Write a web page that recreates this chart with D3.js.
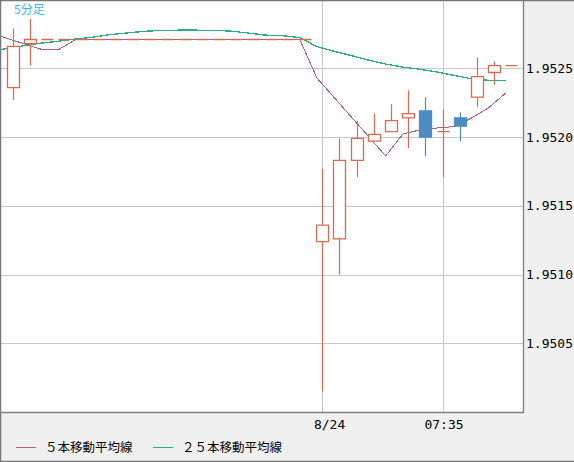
<html>
<head>
  <script src="https://d3js.org/d3.v7.min.js"></script>
  <style>
    body { margin: 0; background: #f0f0f0; }
    .grid line { stroke: #c8c8c8; shape-rendering: crispEdges; }
    .grid .domain { stroke: none; }
    .axis .domain { stroke: none; }
    .axis text { font-family: "DejaVu Sans Mono", monospace; font-size: 13px; fill: #000; }
    .legend text { font-family: "Noto Sans CJK JP", sans-serif; font-size: 12.5px; fill: #000; }
  </style>
</head>
<body>
  <svg id="chart" width="574" height="462"></svg>
  <script>
    // candles, left to right (weekend gap = flat bars)
    const opens  = [1.95236, 1.95268,
      1.95271, 1.95271, 1.95271, 1.95271, 1.95271, 1.95271, 1.95271, 1.95271,
      1.95271, 1.95271, 1.95271, 1.95271, 1.95271, 1.95271, 1.95271, 1.95271,
      1.95124, 1.95126, 1.95183, 1.95197, 1.95204, 1.95214, 1.95219, 1.95204,
      1.95214, 1.95229, 1.95247, 1.95252];
    const highs  = [1.95279, 1.95286,
      1.95271, 1.95271, 1.95271, 1.95271, 1.95271, 1.95271, 1.95271, 1.95271,
      1.95271, 1.95271, 1.95271, 1.95271, 1.95271, 1.95271, 1.95271, 1.95271,
      1.95177, 1.95199, 1.95212, 1.95217, 1.95224, 1.95234, 1.95229, 1.95220,
      1.95218, 1.95258, 1.95255, 1.95252];
    const lows   = [1.95227, 1.95252,
      1.95271, 1.95271, 1.95271, 1.95271, 1.95271, 1.95271, 1.95271, 1.95271,
      1.95271, 1.95271, 1.95271, 1.95271, 1.95271, 1.95271, 1.95271, 1.95271,
      1.95015, 1.95100, 1.95171, 1.95197, 1.95204, 1.95192, 1.95186, 1.95171,
      1.95197, 1.95222, 1.95238, 1.95252];
    const closes = [1.95266, 1.95271,
      1.95271, 1.95271, 1.95271, 1.95271, 1.95271, 1.95271, 1.95271, 1.95271,
      1.95271, 1.95271, 1.95271, 1.95271, 1.95271, 1.95271, 1.95271, 1.95271,
      1.95136, 1.95183, 1.95199, 1.95202, 1.95212, 1.95217, 1.95200, 1.95204,
      1.95208, 1.95244, 1.95252, 1.95252];

    // moving averages start one bar before the first visible candle
    const maFirst = -1;
    const ma5 = [1.952757, 1.952717, 1.952678, 1.952638, 1.952638, 1.952711,
      1.952711, 1.952711, 1.952711, 1.952711, 1.952711, 1.952711, 1.952711,
      1.952711, 1.952711, 1.952711, 1.952711, 1.952711, 1.952711,
      1.952430, 1.952288, 1.952146, 1.952004, 1.951863, 1.952023, 1.952052,
      1.952066, 1.952077, 1.952140, 1.952215, 1.952323];
    const ma25 = [1.952626, 1.952644, 1.952666, 1.952684, 1.952698, 1.952714,
      1.952727, 1.952746, 1.952758, 1.952770, 1.952776, 1.952778, 1.952778,
      1.952776, 1.952771, 1.952757, 1.952742, 1.952738, 1.952724,
      1.952658, 1.952624, 1.952593, 1.952560, 1.952531, 1.952509, 1.952493,
      1.952473, 1.952448, 1.952424, 1.952413, 1.952410];

    const yTicks = [1.9505, 1.9510, 1.9515, 1.9520, 1.9525];
    const xTickIdx = [18, 25];
    const xTickLabels = ["8/24", "07:35"];
    const seriesNames = ["５本移動平均線", "２５本移動平均線"];
    const title = "5分足";

    const upColor = "#d9694f", downColor = "#4d8cc0";
    const ma5Color = "#b0607f", ma25Color = "#2bb077";

    const svg = d3.select("svg#chart");
    const plot = { left: 1, top: 1, right: 523, bottom: 412 };

    const x = d3.scaleLinear().domain([0, 29]).range([12.5, 511.3]);
    const y = d3.scaleLinear().domain([1.9500, 1.95299]).range([plot.bottom, plot.top]);

    // plot background
    svg.append("rect")
      .attr("x", plot.left).attr("y", plot.top)
      .attr("width", plot.right - plot.left).attr("height", plot.bottom - plot.top)
      .attr("fill", "white");

    svg.append("defs").append("clipPath").attr("id", "clip")
      .append("rect")
      .attr("x", plot.left).attr("y", plot.top)
      .attr("width", plot.right - plot.left).attr("height", plot.bottom - plot.top);

    // gridlines
    svg.append("g")
      .attr("class", "grid")
      .attr("transform", `translate(${plot.left},0)`)
      .call(d3.axisRight(y).tickValues(yTicks).tickSize(plot.right - plot.left).tickFormat(""));

    svg.append("g")
      .attr("class", "grid")
      .attr("transform", `translate(0,${plot.top})`)
      .call(d3.axisBottom(x).tickValues(xTickIdx).tickSize(plot.bottom - plot.top).tickFormat(""));

    // moving averages (drawn a little left of the candle centres)
    const maShift = 0.3;
    const maLine = d3.line()
      .x((d, i) => x(maFirst + i - maShift))
      .y(d => y(d));

    const lines = svg.append("g").attr("clip-path", "url(#clip)");
    lines.append("path")
      .attr("d", maLine(ma25))
      .attr("fill", "none")
      .attr("stroke", ma25Color)
      .attr("stroke-width", 1.3)
      .attr("shape-rendering", "crispEdges");
    lines.append("path")
      .attr("d", maLine(ma5))
      .attr("fill", "none")
      .attr("stroke", ma5Color)
      .attr("stroke-width", 1)
      .attr("shape-rendering", "crispEdges");

    // candles
    const bodyHalf = 6;
    const candles = svg.append("g").attr("clip-path", "url(#clip)");
    opens.forEach((o, i) => {
      const c = closes[i];
      const col = c < o ? downColor : upColor;
      const cx = Math.round(x(i)) + 0.5;
      const top = y(Math.max(o, c)), bot = y(Math.min(o, c));
      if (highs[i] > lows[i]) {
        candles.append("line")
          .attr("x1", cx).attr("x2", cx)
          .attr("y1", y(highs[i])).attr("y2", y(lows[i]))
          .attr("stroke", col)
          .attr("stroke-width", 1.2);
      }
      candles.append("path")
        .attr("d", `M${cx - bodyHalf},${top}H${cx + bodyHalf}V${bot}H${cx - bodyHalf}Z`)
        .attr("fill", c < o ? downColor : "white")
        .attr("stroke", col)
        .attr("stroke-width", 1.3);
    });

    // frame of plot area
    svg.append("line")
      .attr("x1", plot.right + 0.5).attr("x2", plot.right + 0.5)
      .attr("y1", 0).attr("y2", plot.bottom + 1)
      .attr("stroke", "#808080").attr("stroke-width", 1.3);
    svg.append("line")
      .attr("x1", 0).attr("x2", plot.right + 1)
      .attr("y1", plot.bottom + 0.5).attr("y2", plot.bottom + 0.5)
      .attr("stroke", "#808080").attr("stroke-width", 1.3);

    // outer frame
    svg.append("path")
      .attr("d", "M0.5,461.5V0.5H574")
      .attr("fill", "none").attr("stroke", "#777").attr("stroke-width", 1.5);
    svg.append("line")
      .attr("x1", 0).attr("x2", 574).attr("y1", 461.5).attr("y2", 461.5)
      .attr("stroke", "#777").attr("stroke-width", 1.3);

    // axes labels
    const yAxis = svg.append("g")
      .attr("class", "axis")
      .attr("transform", `translate(${plot.right},0)`)
      .call(d3.axisRight(y).tickValues(yTicks).tickSize(0).tickPadding(3).tickFormat(d3.format(".4f")));

    const xAxis = svg.append("g")
      .attr("class", "axis")
      .attr("transform", `translate(0,${plot.bottom})`)
      .call(d3.axisBottom(x).tickValues(xTickIdx).tickSize(0).tickPadding(8)
        .tickFormat((d, i) => xTickLabels[i]));
    xAxis.selectAll(".tick text").attr("dx", (d, i) => i === 0 ? 7 : 1);

    // title
    svg.append("text")
      .attr("x", 14).attr("y", 14)
      .attr("font-family", "Noto Sans CJK JP, sans-serif")
      .attr("font-size", 12)
      .attr("fill", "#3bb4ee")
      .text(title);

    // legend
    const legend = svg.append("g").attr("class", "legend");
    const legendColors = [ma5Color, ma25Color];
    const legendX = [16, 153];
    seriesNames.forEach((name, i) => {
      legend.append("line")
        .attr("x1", legendX[i]).attr("x2", legendX[i] + 20)
        .attr("y1", 447.5).attr("y2", 447.5)
        .attr("stroke", legendColors[i]);
      legend.append("text")
        .attr("x", legendX[i] + 29).attr("y", 452)
        .text(name);
    });
  </script>
</body>
</html>
